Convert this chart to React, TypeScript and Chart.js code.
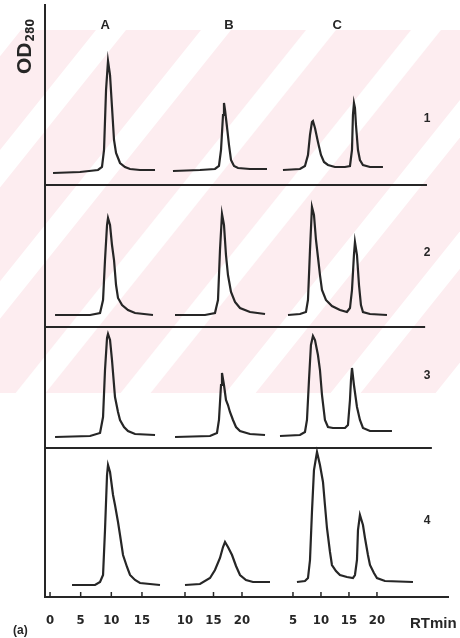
import React, { useEffect, useRef } from "react";
import { Chart, registerables } from "chart.js";

Chart.register(...registerables);

// ---- axis / panel layout (global x unit = panel-A minutes) ----
const X_MIN = -0.82;
const X_MAX = 64.93;
const Y_MAX = 592;
const PANEL_OFFSET = [0, 12.72, 35.07];
const PANEL_SCALE = [1, 0.93, 0.9135];
const ROW_BASE = [412, 270, 149, 0];
const SEP_END = [61.5, 61.2, 62.3];

const PANEL_NAMES = ["A", "B", "C"];
const ROW_NAMES = ["1", "2", "3", "4"];
const TICKS_A = [0, 5, 10, 15];
const TICKS_B = [10, 15, 20];
const TICKS_C = [5, 10, 15, 20];

// ---- traces: retention time (min) and OD signal above row line ----
// Row 1
const R1A_T = [0.49, 4.89, 7.83, 8.48, 8.81, 9.14, 9.46, 9.79, 10.11, 10.44, 10.77, 11.42, 12.23, 13.05, 14.68, 17.13];
const R1A_H = [12, 13, 15, 18, 35, 95, 124, 110, 78, 45, 32, 22, 18, 16, 15, 15];
const R1B_T = [7.89, 12.63, 15.26, 15.96, 16.32, 16.67, 16.84, 17.02, 17.37, 17.72, 18.07, 18.6, 19.3, 21.4, 24.39];
const R1B_H = [14, 15, 16, 19, 35, 70, 82, 75, 58, 40, 25, 19, 17, 16, 16];
const R1C_T = [3.21, 6.25, 7.14, 7.68, 8.04, 8.39, 8.57, 8.93, 9.46, 10.0, 10.54, 11.25, 12.5, 14.29, 15.18, 15.54, 15.71, 15.89, 16.07, 16.25, 16.61, 16.96, 17.5, 18.75, 21.07];
const R1C_H = [15, 16, 19, 30, 50, 63, 64, 57, 43, 30, 23, 20, 18, 18, 19, 35, 70, 82, 77, 60, 35, 25, 20, 18, 18];
// Row 2
const R2A_T = [0.82, 6.53, 8.16, 8.65, 8.97, 9.3, 9.46, 9.79, 10.11, 10.44, 10.77, 11.09, 11.75, 12.72, 13.87, 16.8];
const R2A_H = [12, 12, 14, 27, 67, 102, 109, 102, 82, 67, 42, 29, 22, 17, 14, 12];
const R2B_T = [8.25, 13.51, 15.26, 15.79, 16.14, 16.49, 16.84, 17.19, 17.54, 18.07, 18.77, 19.65, 21.4, 24.04];
const R2B_H = [12, 12, 14, 27, 77, 113, 102, 72, 52, 35, 25, 19, 15, 13];
const R2C_T = [4.11, 6.25, 7.32, 7.68, 8.04, 8.39, 8.75, 9.11, 9.46, 9.82, 10.18, 10.89, 11.96, 13.39, 14.64, 15.18, 15.54, 15.89, 16.07, 16.43, 16.79, 17.14, 17.5, 18.75, 21.79];
const R2C_H = [12, 13, 15, 27, 77, 120, 112, 87, 70, 52, 37, 27, 21, 17, 15, 19, 37, 72, 85, 72, 42, 22, 15, 13, 12];
// Row 3
const R3A_T = [0.82, 6.53, 8.16, 8.65, 8.97, 9.3, 9.46, 9.79, 10.11, 10.6, 11.09, 11.42, 12.07, 12.72, 13.87, 17.13];
const R3A_H = [11, 12, 15, 31, 78, 110, 114, 108, 88, 51, 36, 28, 21, 17, 14, 13];
const R3B_T = [8.25, 14.39, 15.61, 15.96, 16.32, 16.49, 16.84, 17.19, 17.54, 17.89, 18.42, 18.95, 19.65, 21.4, 24.04];
const R3B_H = [11, 12, 15, 28, 63, 75, 63, 48, 43, 36, 28, 21, 17, 14, 13];
const R3C_T = [2.68, 6.25, 7.14, 7.5, 7.86, 8.21, 8.57, 8.93, 9.46, 9.82, 10.18, 10.71, 11.25, 12.14, 14.29, 14.82, 15.18, 15.36, 15.54, 15.89, 16.43, 16.96, 17.5, 18.75, 22.68];
const R3C_H = [12, 13, 16, 28, 68, 103, 112, 108, 93, 78, 53, 28, 21, 20, 20, 23, 48, 68, 80, 63, 41, 28, 20, 17, 17];
// Row 4
const R4A_T = [3.59, 7.34, 8.16, 8.65, 8.97, 9.3, 9.46, 9.79, 10.28, 10.6, 11.09, 11.42, 11.91, 12.56, 13.05, 13.87, 14.68, 17.94];
const R4A_H = [12, 12, 15, 22, 67, 122, 132, 125, 102, 92, 75, 62, 42, 30, 22, 17, 14, 12];
const R4B_T = [10, 12.63, 14.39, 15.26, 16.14, 16.67, 17.02, 17.54, 18.25, 18.95, 19.65, 20.7, 21.93, 24.91];
const R4B_H = [12, 13, 19, 27, 39, 50, 55, 50, 42, 31, 22, 17, 15, 15];
const R4C_T = [5.71, 7.14, 7.68, 8.04, 8.39, 8.75, 9.29, 9.82, 10.36, 10.71, 11.07, 11.61, 11.96, 12.68, 13.39, 14.64, 15.71, 16.07, 16.43, 16.61, 16.96, 17.5, 17.86, 18.39, 18.75, 19.46, 20.0, 21.43, 26.43];
const R4C_H = [15, 16, 19, 37, 85, 127, 145, 132, 115, 92, 69, 45, 32, 26, 22, 20, 19, 22, 37, 67, 82, 72, 59, 42, 32, 24, 19, 16, 15];

const TRACES = [
  [[R1A_T, R1A_H], [R1B_T, R1B_H], [R1C_T, R1C_H]],
  [[R2A_T, R2A_H], [R2B_T, R2B_H], [R2C_T, R2C_H]],
  [[R3A_T, R3A_H], [R3B_T, R3B_H], [R3C_T, R3C_H]],
  [[R4A_T, R4A_H], [R4B_T, R4B_H], [R4C_T, R4C_H]],
];

const toGlobal = (p: number, t: number) => PANEL_OFFSET[p] + PANEL_SCALE[p] * t;

const TICK_SETS = [TICKS_A, TICKS_B, TICKS_C];
const TICK_VALUES: number[] = [];
const TICK_LABELS: string[] = [];
TICK_SETS.forEach((set, p) =>
  set.forEach((v) => {
    TICK_VALUES.push(toGlobal(p, v));
    TICK_LABELS.push(String(v));
  })
);

const NARROW = "'Liberation Sans Narrow', 'DejaVu Sans Condensed', 'Liberation Sans', Arial, sans-serif";
const SANS = "'Liberation Sans', Arial, sans-serif";
const INK = "#262626";

const decorPlugin = {
  id: "decor",
  beforeDraw(chart: any) {
    const ctx = chart.ctx;
    const W = chart.width;
    ctx.save();
    ctx.fillStyle = "#ffffff";
    ctx.fillRect(0, 0, W, chart.height);
    // faint diagonal watermark
    const top = 30, bot = 393;
    ctx.beginPath();
    ctx.rect(0, top, W, bot - top);
    ctx.clip();
    ctx.fillStyle = "rgb(253,237,240)";
    ctx.fillRect(0, top, W, bot - top);
    ctx.fillStyle = "#ffffff";
    const s = 1.25, w = 30;
    for (let c = -300; c < 1000; c += 105) {
      ctx.beginPath();
      ctx.moveTo(c - top / s, top);
      ctx.lineTo(c + w - top / s, top);
      ctx.lineTo(c + w - bot / s, bot);
      ctx.lineTo(c - bot / s, bot);
      ctx.closePath();
      ctx.fill();
    }
    ctx.restore();
  },
  afterDatasetsDraw(chart: any) {
    const ctx = chart.ctx;
    const xs = chart.scales.x;
    const ys = chart.scales.y;
    const area = chart.chartArea;
    ctx.save();
    // row separators
    ctx.strokeStyle = INK;
    ctx.lineWidth = 2;
    SEP_END.forEach((end, i) => {
      const y = ys.getPixelForValue(ROW_BASE[i]);
      ctx.beginPath();
      ctx.moveTo(area.left, y);
      ctx.lineTo(xs.getPixelForValue(end), y);
      ctx.stroke();
    });
    // inward tick marks
    ctx.lineWidth = 1.5;
    TICK_VALUES.forEach((v) => {
      const x = xs.getPixelForValue(v);
      ctx.beginPath();
      ctx.moveTo(x, area.bottom - 5);
      ctx.lineTo(x, area.bottom);
      ctx.stroke();
    });
    ctx.fillStyle = INK;
    // column headers
    ctx.font = `bold 13px ${SANS}`;
    ctx.textAlign = "center";
    ctx.textBaseline = "middle";
    const headerX = [9.0, 17.7, 12.9];
    PANEL_NAMES.forEach((n, p) => {
      ctx.fillText(n, xs.getPixelForValue(toGlobal(p, headerX[p])), 25);
    });
    // row labels
    ctx.font = `bold 12px ${SANS}`;
    const rowLabelY = [119, 253, 376, 521];
    ROW_NAMES.forEach((n, i) => ctx.fillText(n, 427, rowLabelY[i]));
    // y title OD280 (rotated)
    ctx.save();
    ctx.translate(31, 74);
    ctx.rotate(-Math.PI / 2);
    ctx.textAlign = "left";
    ctx.textBaseline = "alphabetic";
    ctx.font = `bold 21px ${SANS}`;
    ctx.fillText("OD", 0, 0);
    const odw = ctx.measureText("OD").width;
    ctx.font = `bold 12px ${NARROW}`;
    ctx.fillText("280", odw + 1, 3);
    ctx.restore();
    // (a) and RT min
    ctx.textAlign = "left";
    ctx.textBaseline = "alphabetic";
    ctx.font = `bold 12px ${SANS}`;
    ctx.fillText("(a)", 13, 634);
    ctx.font = `bold 15px ${SANS}`;
    ctx.fillText("RTmin", 410, 628);
    ctx.restore();
  },
};

export default function App() {
  const ref = useRef<HTMLCanvasElement | null>(null);
  useEffect(() => {
    if (!ref.current) return;
    const datasets: any[] = [];
    TRACES.forEach((row, r) =>
      row.forEach(([T, H], p) => {
        datasets.push({
          label: `${ROW_NAMES[r]}${PANEL_NAMES[p]}`,
          data: T.map((t, i) => ({ x: toGlobal(p, t), y: ROW_BASE[r] + H[i] })),
          borderColor: INK,
          borderWidth: 2.2,
          pointRadius: 0,
          tension: 0,
          fill: false,
        });
      })
    );
    const chart = new Chart(ref.current, {
      type: "line",
      data: { datasets },
      plugins: [decorPlugin],
      options: {
        animation: false,
        responsive: false,
        devicePixelRatio: 1,
        layout: { padding: { top: 5, right: 12, left: 0, bottom: 0 } },
        plugins: { legend: { display: false }, tooltip: { enabled: false } },
        scales: {
          x: {
            type: "linear",
            min: X_MIN,
            max: X_MAX,
            grid: { display: false },
            border: { display: true, color: INK, width: 2 },
            afterFit: (s: any) => {
              s.height = 41;
            },
            afterBuildTicks: (s: any) => {
              s.ticks = TICK_VALUES.map((v) => ({ value: v }));
            },
            ticks: {
              autoSkip: false,
              maxRotation: 0,
              padding: 8,
              color: INK,
              font: { family: NARROW, size: 13, weight: "bold" },
              callback: (_v: any, i: number) => TICK_LABELS[i],
            },
          },
          y: {
            type: "linear",
            min: 0,
            max: Y_MAX,
            grid: { display: false },
            border: { display: true, color: INK, width: 2 },
            ticks: { display: false },
            afterFit: (s: any) => {
              s.width = 45;
            },
          },
        },
      } as any,
    });
    return () => chart.destroy();
  }, []);
  return (
    <div style={{ position: "absolute", left: 0, top: 0, width: 460, height: 638 }}>
      <canvas ref={ref} width={460} height={638} style={{ width: 460, height: 638 }} />
    </div>
  );
}
